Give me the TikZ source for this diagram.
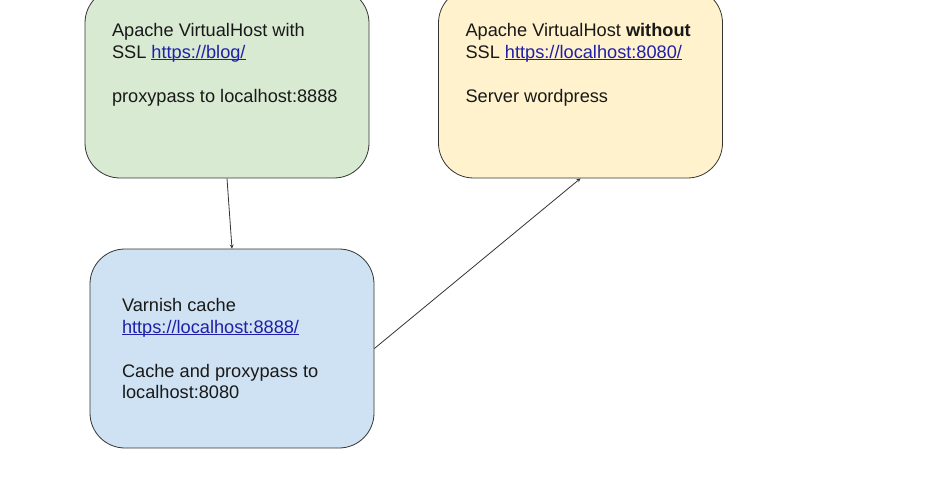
\documentclass[tikz,border=0pt]{standalone}
\usepackage{fontspec}
\setmainfont{Liberation Sans}
\usetikzlibrary{positioning}
\definecolor{boxgreen}{HTML}{D9EAD3}
\definecolor{boxyellow}{HTML}{FFF2CC}
\definecolor{boxblue}{HTML}{CFE2F3}
\definecolor{linkblue}{HTML}{1F1FA8}
\definecolor{edgegray}{HTML}{333333}
\newcommand{\weblink}[1]{{\color{linkblue}\setbox0\hbox{#1}%
	\rlap{\rule[-1.8pt]{\wd0}{0.9pt}}\box0}}

\begin{document}
\begin{tikzpicture}[x=1pt, y=-1pt, >=stealth, line width=0.8pt,
		box/.style={draw=edgegray, rounded corners=35pt, minimum width=284pt,
			minimum height=190pt, inner sep=0pt},
		txt/.style={align=left, inner sep=0pt, text=black!90,
			font=\fontsize{18.2}{21.8}\selectfont}]
	\useasboundingbox (0,0) rectangle (938,500);

	\node[box, fill=boxgreen] (vhost) at (227,83) {};
	\node[box, fill=boxyellow] (wordpress) at (580.5,83) {};
	\node[box, fill=boxblue, minimum height=199pt] (varnish) at (232,348.5) {};

	\node[txt, below right=35.5pt and 27pt of vhost.north west] (vhosttext)
		{Apache VirtualHost with\\ SSL \weblink{https://blog/}\\[21.8pt]
		proxypass to localhost:8888};
	\node[txt, below right=35.5pt and 27pt of wordpress.north west] (wordpresstext)
		{Apache VirtualHost \textbf{without}\\ SSL \weblink{https://localhost:8080/}\\[21.8pt]
		Server wordpress};
	\node[txt, below right=49.5pt and 32pt of varnish.north west] (varnishtext)
		{Varnish cache\\ \weblink{https://localhost:8888/}\\[21.8pt]
		Cache and proxypass to\\ localhost:8080};

	\draw[->, edgegray] (vhost.south) -- (varnish.north);
	\draw[->, edgegray] (varnish.east) -- (wordpress.south);
\end{tikzpicture}
\end{document}
